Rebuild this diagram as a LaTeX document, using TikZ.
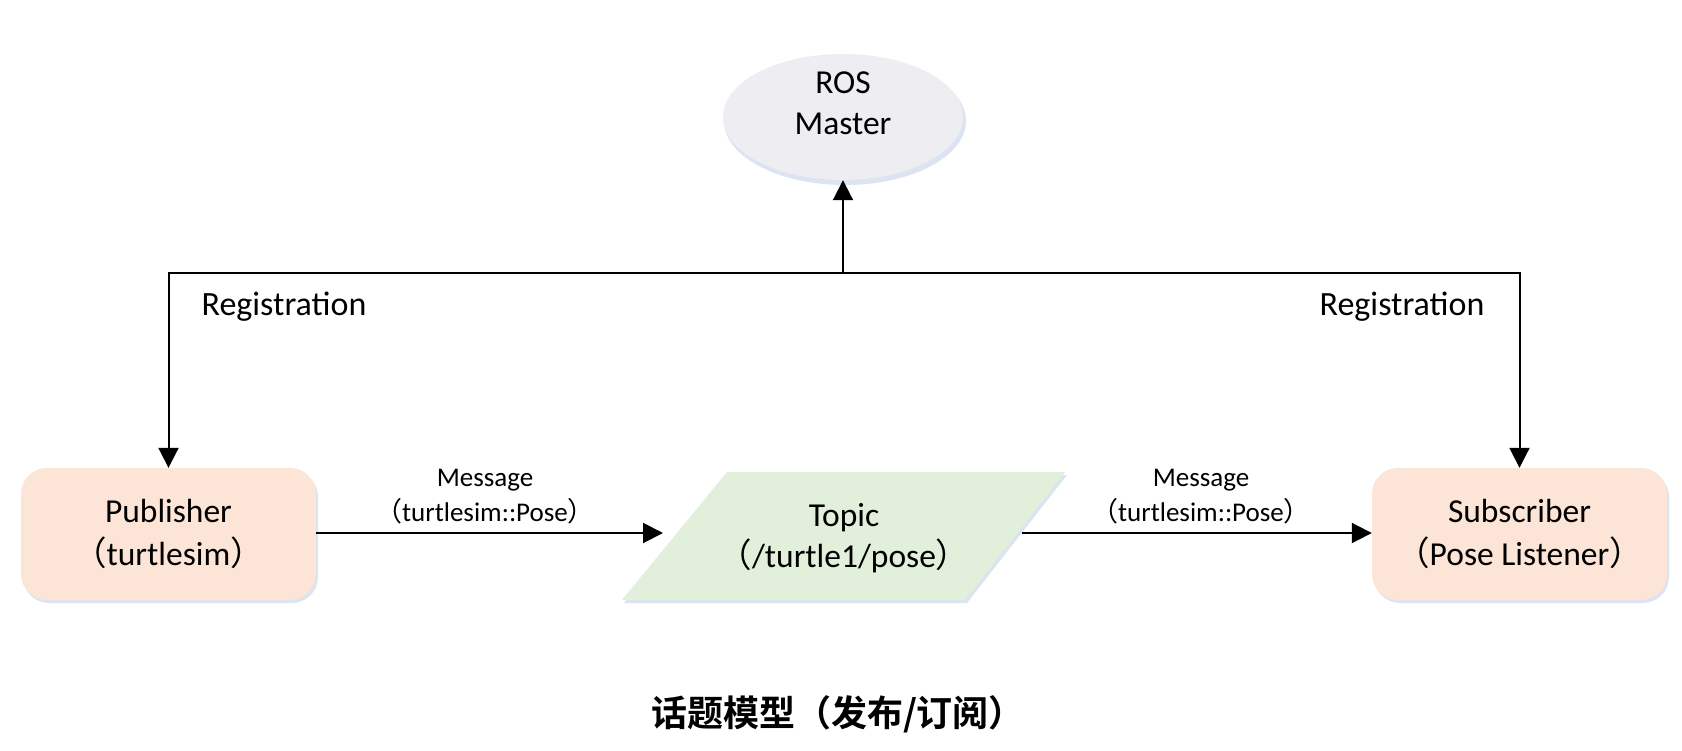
\documentclass[tikz,border=0pt]{standalone}
\usepackage{fontspec}
\setmainfont{Carlito}
\newfontfamily\cjk{Noto Sans CJK SC}[BoldFont={* Bold}]
\usetikzlibrary{shapes.geometric,arrows.meta}
\definecolor{peach}{HTML}{FCE4D6}
\definecolor{mint}{HTML}{E2EFDA}
\definecolor{mgray}{HTML}{EDEDF2}
\definecolor{shad}{HTML}{DCE4F2}
\newcommand{\lp}{{\cjk （}}
\newcommand{\rp}{{\cjk ）}}
\tikzset{
  arr/.style={line width=2pt,-{Triangle[length=20pt,width=20pt]}},
  boxnode/.style={rounded corners=26pt,fill=peach,minimum width=295pt,minimum height=132pt,
    align=center,font=\fontsize{33.5}{43}\selectfont,inner sep=0pt},
  mastnode/.style={ellipse,fill=mgray,minimum width=240pt,minimum height=126pt,inner sep=0pt},
  msglabel/.style={align=center,font=\fontsize{27}{35}\selectfont},
  reglabel/.style={font=\fontsize{34}{38}\selectfont},
  txt/.style={align=center,font=\fontsize{33.5}{41}\selectfont},
}
\begin{document}
\begin{tikzpicture}[x=1pt,y=-1pt]
\useasboundingbox[fill=white] (0,0) rectangle (1682,750);
% shadows
\fill[shad] (845,121) ellipse [x radius=121pt,y radius=64pt];
\fill[shad,rounded corners=26pt] (23,471) rectangle (318,603);
\fill[shad,rounded corners=26pt] (1374,471) rectangle (1669,603);
\fill[shad] (729,475) -- (1067,475) -- (967,603) -- (624,603) -- cycle;
% master
\node[mastnode] (master) at (843,117) {};
\node[txt] (masterlbl) at (843,103) {ROS\\Master};
% boxes
\node[boxnode] (pub) at (168.5,534) {Publisher\\\lp turtlesim\rp};
\node[boxnode] (sub) at (1519.5,534) {Subscriber\\\lp Pose Listener\rp};
% topic
\fill[mint] (727,472) -- (1065,472) -- (965,600) -- (622,600) -- cycle;
\node[txt] (topic) at (844,538) {Topic\\\lp/turtle1/pose\rp};
\coordinate (tin) at (663,533);
\coordinate (tout) at (1022,533);
% connectors
\coordinate (jn) at (843,273);
\draw[arr] (jn) -- (master.south);
\draw[arr] (jn) -| (pub.north);
\draw[arr] (jn) -| (sub.north);
\draw[arr] (pub.east |- tin) -- (tin);
\draw[arr] (tout) -- (sub.west |- tout);
% labels
\node[reglabel] (regl) at (284,307) {Registration};
\node[reglabel] (regr) at (1402,307) {Registration};
\node[msglabel] (msgl) at (485,497) {Message\\\lp turtlesim::Pose\rp};
\node[msglabel] (msgr) at (1201,497) {Message\\\lp turtlesim::Pose\rp};
\node[font=\cjk\bfseries\fontsize{36}{40}\selectfont] (title) at (838,714) {话题模型（发布/订阅）};
\end{tikzpicture}
\end{document}
